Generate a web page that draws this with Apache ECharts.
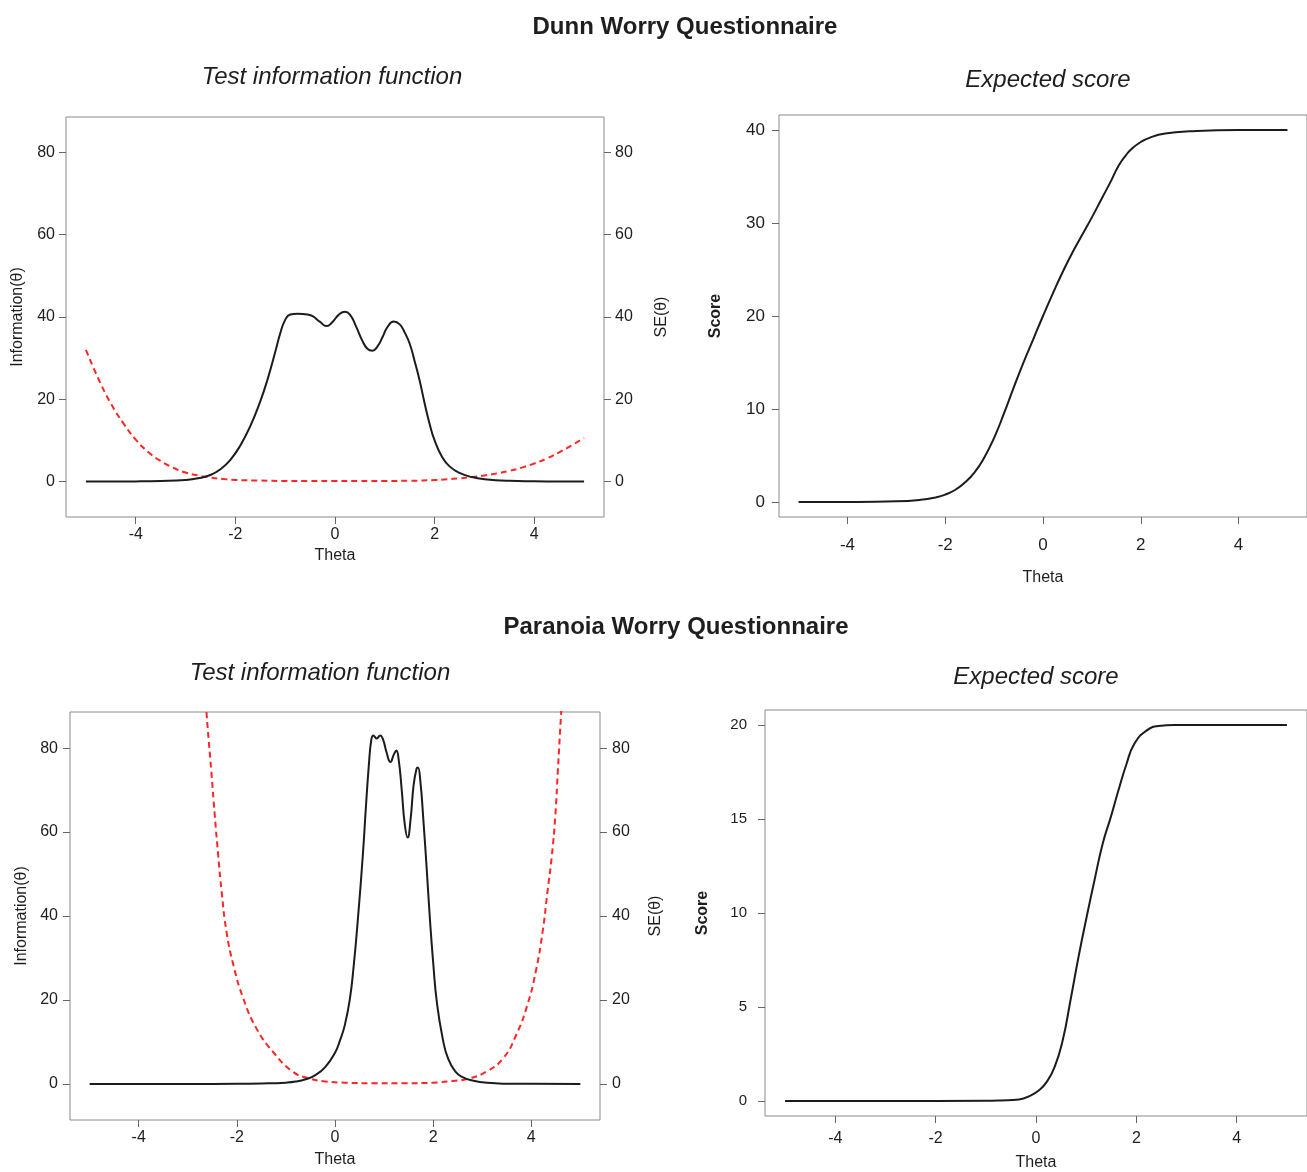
<!DOCTYPE html>
<html>
<head>
<meta charset="utf-8">
<script src="https://cdn.jsdelivr.net/npm/echarts@6/dist/echarts.min.js"></script>
<style>
html,body{margin:0;padding:0;background:#fff;}
#chart{width:1307px;height:1172px;}
</style>
</head>
<body>
<div id="chart"></div>
<script>
// ---- tick labels ----
var thetaTicks = [-4, -2, 0, 2, 4];
var infoTicks = [0, 20, 40, 60, 80];
var dunnScoreTicks = [0, 10, 20, 30, 40];
var paraScoreTicks = [0, 5, 10, 15, 20];

// ---- Dunn Worry Questionnaire: test information [theta, info] ----
var dunnInfo = [[-5,0],[-4,0.05],[-3.5,0.15],[-3,0.4],[-2.75,0.8],[-2.5,1.6],[-2.3,3.0],[-2.1,5.3],[-1.9,8.8],[-1.7,13.5],[-1.5,19.5],[-1.35,25],[-1.2,31.5],[-1.1,36],[-1.0,39.3],[-0.9,40.6],[-0.75,40.8],[-0.55,40.6],[-0.45,40.2],[-0.3,38.8],[-0.17,37.8],[-0.05,38.8],[0.08,40.6],[0.2,41.3],[0.3,40.6],[0.42,37.8],[0.55,34.2],[0.65,32.3],[0.75,31.8],[0.85,32.8],[0.95,35],[1.05,37.5],[1.18,38.9],[1.3,38.2],[1.4,36.2],[1.5,33.5],[1.6,29.2],[1.7,24.5],[1.8,19],[1.9,14],[2.0,10],[2.15,6],[2.3,3.7],[2.5,2.1],[2.75,1.1],[3,0.6],[3.5,0.2],[4,0.08],[4.5,0.03],[5,0]];
// ---- Dunn: standard error [theta, SE] ----
var dunnSE = [[-5,32],[-4.75,25],[-4.5,19],[-4.25,14.2],[-4,10.2],[-3.75,7.2],[-3.5,5],[-3.25,3.4],[-3,2.2],[-2.75,1.5],[-2.5,1.0],[-2.25,0.65],[-2,0.42],[-1.5,0.25],[-1,0.16],[-0.5,0.16],[0,0.16],[0.5,0.17],[1,0.17],[1.5,0.2],[2,0.38],[2.25,0.55],[2.5,0.8],[2.75,1.1],[3,1.5],[3.25,2.0],[3.5,2.6],[3.75,3.4],[4,4.4],[4.25,5.6],[4.5,7.1],[4.75,8.8],[5,10.6]];
// ---- Dunn: expected score [theta, score] ----
var dunnScore = [[-5,0],[-4,0.01],[-3,0.08],[-2.5,0.25],[-2.2,0.5],[-2,0.8],[-1.8,1.3],[-1.6,2.1],[-1.4,3.2],[-1.2,4.8],[-1,6.9],[-0.8,9.5],[-0.6,12.3],[-0.4,15],[-0.2,17.5],[0,20],[0.2,22.4],[0.4,24.7],[0.6,26.8],[0.8,28.7],[1,30.6],[1.2,32.6],[1.4,34.6],[1.5,35.7],[1.6,36.6],[1.7,37.3],[1.8,37.9],[2,38.7],[2.2,39.2],[2.5,39.6],[3,39.85],[4,40],[5,40]];

// ---- Paranoia Worry Questionnaire: test information ----
var paraInfo = [[-5,0],[-3,0],[-2,0.02],[-1.5,0.1],[-1,0.3],[-0.8,0.55],[-0.6,1.1],[-0.4,2.1],[-0.2,4.0],[0,7.4],[0.1,10.3],[0.2,14],[0.3,20],[0.38,28],[0.47,39.8],[0.57,55],[0.63,66],[0.69,76],[0.74,82],[0.78,83],[0.85,82.3],[0.92,83],[0.98,82],[1.05,79],[1.13,76.7],[1.2,78.5],[1.25,79.4],[1.3,77],[1.36,70],[1.42,62],[1.48,58.7],[1.54,63],[1.6,71],[1.66,75],[1.69,75.4],[1.74,72],[1.8,63],[1.87,51],[1.93,40],[2.0,29],[2.08,19],[2.2,10.5],[2.3,6.2],[2.45,3],[2.6,1.6],[2.8,0.8],[3.1,0.25],[3.5,0.05],[4,0.01],[5,0]];
// ---- Paranoia: standard error ----
var paraSE = [[-2.75,110],[-2.62,88.7],[-2.52,74.4],[-2.45,64],[-2.38,54.5],[-2.31,45.8],[-2.21,36.2],[-2.07,28.3],[-1.87,20.4],[-1.6,13.2],[-1.26,7.6],[-0.86,2.9],[-0.52,1.3],[-0.2,0.6],[0.2,0.3],[0.8,0.15],[1.4,0.15],[2,0.3],[2.4,0.7],[2.74,1.3],[3.08,2.9],[3.42,6.0],[3.69,11.6],[3.92,18.8],[4.09,26.7],[4.23,36.2],[4.33,45.8],[4.42,54.5],[4.49,64],[4.54,74.4],[4.61,88.7],[4.72,110]];
// ---- Paranoia: expected score ----
var paraScore = [[-5,0],[-3,0],[-1,0.01],[-0.7,0.03],[-0.34,0.08],[-0.1,0.3],[0.06,0.57],[0.21,1.0],[0.37,1.8],[0.53,3.2],[0.69,5.4],[0.85,7.7],[1.01,9.8],[1.17,11.8],[1.33,13.7],[1.49,15.1],[1.64,16.5],[1.8,17.9],[1.96,19],[2.2,19.7],[2.44,19.95],[2.76,20],[5,20]];

var FONT = '"Liberation Sans", Arial, Helvetica, sans-serif';
var TXT = '#1e1e1e';
var BOX = '#8a8a8a';
var CURVE = '#1c1c1c';
var RED = '#ff2626';

function xAx(grid, labelMargin, nameGap, fs) {
  return {
    type: 'value', gridIndex: grid, min: -5.4, max: 5.4,
    name: 'Theta', nameLocation: 'middle', nameGap: nameGap,
    nameTextStyle: {fontFamily: FONT, fontSize: 16, color: TXT},
    axisLine: {show: false, onZero: false},
    axisTick: {show: true, length: 7, customValues: thetaTicks, lineStyle: {color: '#666'}},
    axisLabel: {customValues: thetaTicks, margin: labelMargin, fontFamily: FONT, fontSize: fs, color: TXT},
    splitLine: {show: false}
  };
}
function yAx(grid, pos, mn, mx, ticks, name, labelMargin, nameGap, fs, bold) {
  return {
    type: 'value', gridIndex: grid, position: pos, min: mn, max: mx,
    name: name, nameLocation: 'middle', nameGap: nameGap, nameRotate: 90,
    nameTextStyle: {fontFamily: FONT, fontSize: 16, color: TXT, fontWeight: bold ? 'bold' : 'normal'},
    axisLine: {show: false, onZero: false},
    axisTick: {show: true, length: 7, customValues: ticks, lineStyle: {color: '#666'}},
    axisLabel: {customValues: ticks, margin: labelMargin, fontFamily: FONT, fontSize: fs, color: TXT},
    splitLine: {show: false}
  };
}
function line(data, xi, yi, color, dashed) {
  return {
    type: 'line', data: data, xAxisIndex: xi, yAxisIndex: yi,
    showSymbol: false, symbol: 'none', smooth: 0.5, clip: true,
    lineStyle: {color: color, width: 2, type: dashed ? [6, 4] : 'solid'},
    itemStyle: {color: color}, silent: true
  };
}
function txt(x, y, s, font) {
  return {type: 'text', x: x, y: y, silent: true,
    style: {text: s, font: font, fill: TXT, textAlign: 'center', textVerticalAlign: 'middle'}};
}

var chart = echarts.init(document.getElementById('chart'));
var gridStyle = {show: true, borderColor: BOX, borderWidth: 1, backgroundColor: 'transparent'};
chart.setOption({
  animation: false,
  backgroundColor: '#ffffff',
  graphic: [
    txt(685, 27, 'Dunn Worry Questionnaire', 'bold 24px ' + FONT),
    txt(332, 77, 'Test information function', 'italic 24px ' + FONT),
    txt(1048, 80, 'Expected score', 'italic 24px ' + FONT),
    txt(676, 627, 'Paranoia Worry Questionnaire', 'bold 24px ' + FONT),
    txt(320, 673, 'Test information function', 'italic 24px ' + FONT),
    txt(1036, 677, 'Expected score', 'italic 24px ' + FONT)
  ],
  grid: [
    Object.assign({left: 66, top: 117, width: 538, height: 400}, gridStyle),
    Object.assign({left: 779, top: 115, width: 540, height: 402}, gridStyle),
    Object.assign({left: 70, top: 712, width: 530, height: 408}, gridStyle),
    Object.assign({left: 765, top: 710, width: 544, height: 406}, gridStyle)
  ],
  xAxis: [
    xAx(0, 10, 31, 16),
    xAx(1, 20, 53, 17),
    xAx(2, 10, 32, 16),
    xAx(3, 15, 39, 16)
  ],
  yAxis: [
    yAx(0, 'left', -8.6, 88.6, infoTicks, 'Information(\u03b8)', 11, 40, 16, false),
    yAx(0, 'right', -8.6, 88.6, infoTicks, 'SE(\u03b8)', 11, 50, 16, false),
    yAx(1, 'left', -1.6, 41.6, dunnScoreTicks, 'Score', 14, 55, 17, true),
    yAx(2, 'left', -8.6, 88.6, infoTicks, 'Information(\u03b8)', 12, 40, 16, false),
    yAx(2, 'right', -8.6, 88.6, infoTicks, 'SE(\u03b8)', 12, 48, 16, false),
    yAx(3, 'left', -0.8, 20.8, paraScoreTicks, 'Score', 18, 54, 15, true)
  ],
  series: [
    line(dunnSE, 0, 1, RED, true),
    line(dunnInfo, 0, 0, CURVE, false),
    line(dunnScore, 1, 2, CURVE, false),
    line(paraSE, 2, 4, RED, true),
    line(paraInfo, 2, 3, CURVE, false),
    line(paraScore, 3, 5, CURVE, false)
  ]
});
</script>
</body>
</html>
